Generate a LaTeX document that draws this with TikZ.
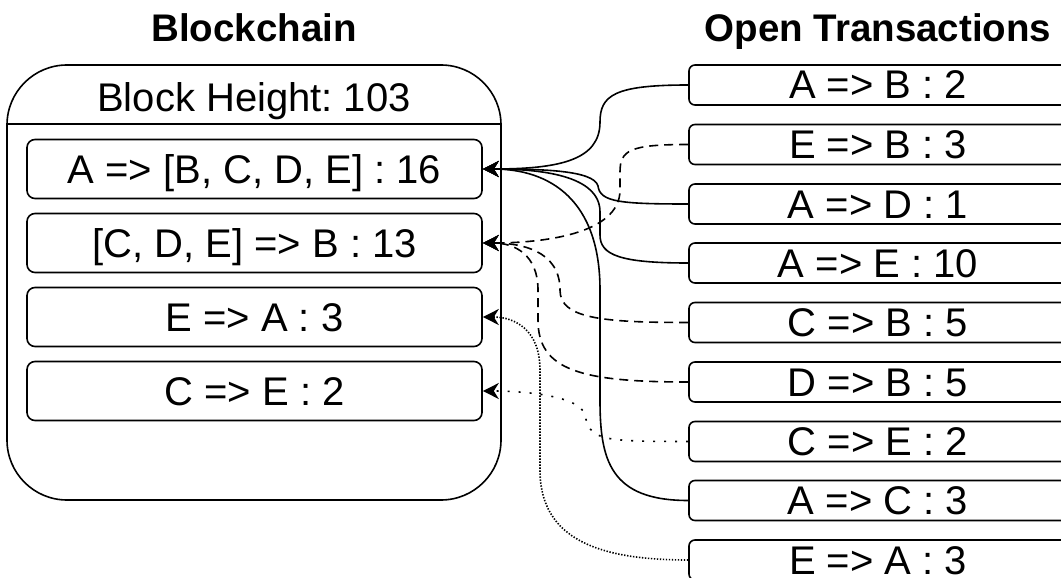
\documentclass[tikz,border=0pt]{standalone}
\usepackage{fontspec}
\setmainfont{Liberation Sans}
\usetikzlibrary{arrows.meta}
\frenchspacing
\begin{document}
\begin{tikzpicture}[x=1pt,y=-1pt,
  every node/.style={font=\fontsize{40}{46}\selectfont},
  box/.style={draw, line width=1.6pt, rounded corners=8pt, minimum width=455pt, minimum height=59pt, inner sep=0pt, text height=28pt, text depth=0pt},
  tbox/.style={draw, line width=1.6pt, rounded corners=6pt, minimum width=378pt, minimum height=40pt, inner sep=0pt, text height=28pt, text depth=0pt},
  title/.style={font=\fontsize{38.5}{44}\selectfont\bfseries, anchor=base},
  link/.style={line width=1.6pt, -{Stealth[length=16pt,width=16pt,inset=5pt]}},
  solidlink/.style={link},
  dashlink/.style={link, dash pattern=on 9pt off 6pt},
  dotlink/.style={link, dash pattern=on 2pt off 9pt},
  finelink/.style={link, dash pattern=on 1.4pt off 1.6pt},
]
\useasboundingbox (0,0) rectangle (1061,578);
\clip (0,0) rectangle (1061,578);

% titles
\node[title] (tchain) at (254,42) {Blockchain};
\node[title] (topen) at (878,42) {Open Transactions};

% container
\node[draw, line width=1.6pt, rounded corners=60pt, minimum width=494pt, minimum height=435pt, inner sep=0pt] (chain) at (254,282.5) {};
\coordinate (hl) at (7,124);
\coordinate (hr) at (501,124);
\draw[line width=1.6pt] (hl) -- (hr);
\node (bh) at (254,97) [text height=28pt, text depth=0pt] {Block Height: 103};

% blocks
\node[box] (l1) at (254.5,169) {A => [B, C, D, E] : 16};
\node[box] (l2) at (254.5,243) {[C, D, E] => B : 13};
\node[box] (l3) at (254.5,317) {E => A : 3};
\node[box] (l4) at (254.5,391) {C => E : 2};

% open transactions
\node[tbox] (r1) at (878,85) {A => B : 2};
\node[tbox] (r2) at (878,144.5) {E => B : 3};
\node[tbox] (r3) at (878,204) {A => D : 1};
\node[tbox] (r4) at (878,263) {A => E : 10};
\node[tbox] (r5) at (878,322.5) {C => B : 5};
\node[tbox] (r6) at (878,382) {D => B : 5};
\node[tbox] (r7) at (878,441.5) {C => E : 2};
\node[tbox] (r8) at (878,500.5) {A => C : 3};
\node[tbox] (r9) at (878,560) {E => A : 3};

% connectors
\draw[solidlink] (r1.west) .. controls (615,85) and (600,95) .. (600,122) .. controls (600,160) and (560,169) .. (l1.east);
\draw[dashlink] (r2.west) .. controls (630,144.5) and (620,150) .. (620,172) -- (620,190) .. controls (620,235) and (540,243) .. (l2.east);
\draw[solidlink] (r3.west) .. controls (620,204) and (600,202) .. (598,186) .. controls (594,170) and (540,169) .. (l1.east);
\draw[solidlink] (r4.west) .. controls (620,263) and (600,255) .. (600,235) -- (600,212) .. controls (600,175) and (540,169) .. (l1.east);
\draw[dashlink] (r5.west) .. controls (600,322.5) and (560,318) .. (560,290) .. controls (560,250) and (520,243) .. (l2.east);
\draw[dashlink] (r6.west) .. controls (580,382) and (538,370) .. (538,320) -- (538,290) .. controls (538,255) and (515,243) .. (l2.east);
\draw[dotlink] (r7.west) .. controls (600,441.5) and (590,440) .. (585,415) .. controls (580,395) and (520,391) .. (l4.east);
\draw[solidlink] (r8.west) .. controls (610,500.5) and (600,460) .. (600,400) -- (600,290) .. controls (600,200) and (550,169) .. (l1.east);
\draw[finelink] (r9.west) .. controls (600,560) and (540,540) .. (540,470) -- (540,370) .. controls (540,330) and (515,317) .. (l3.east);
\end{tikzpicture}
\end{document}
